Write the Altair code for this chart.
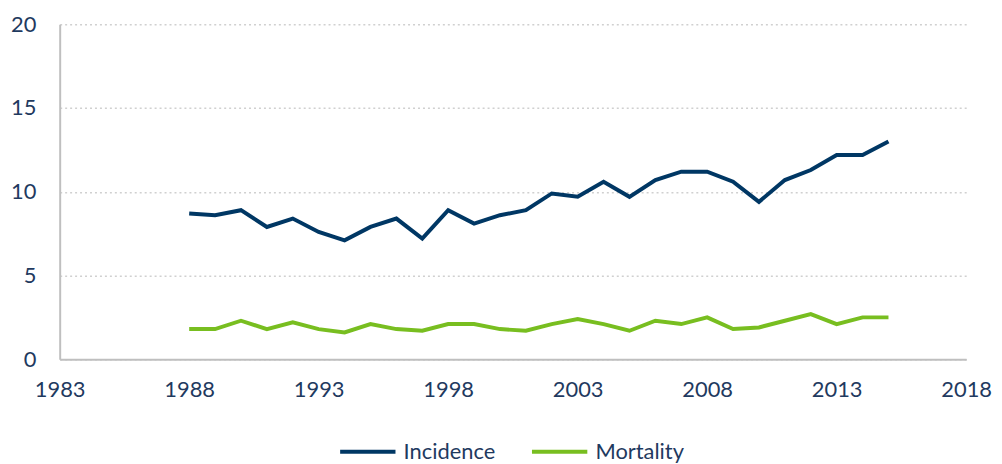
import altair as alt
import pandas as pd

years = list(range(1988, 2016))
incidence = [8.7, 8.6, 8.9, 7.9, 8.4, 7.6, 7.1, 7.9, 8.4, 7.2,
             8.9, 8.1, 8.6, 8.9, 9.9, 9.7, 10.6, 9.7, 10.7, 11.2,
             11.2, 10.6, 9.4, 10.7, 11.3, 12.2, 12.2, 13.0]
mortality = [1.8, 1.8, 2.3, 1.8, 2.2, 1.8, 1.6, 2.1, 1.8, 1.7,
             2.1, 2.1, 1.8, 1.7, 2.1, 2.4, 2.1, 1.7, 2.3, 2.1,
             2.5, 1.8, 1.9, 2.3, 2.7, 2.1, 2.5, 2.5]
series = ["Incidence", "Mortality"]
colors = ["#003764", "#78BE20"]
x_ticks = [1983, 1988, 1993, 1998, 2003, 2008, 2013, 2018]
y_ticks = [0, 5, 10, 15, 20]

rows = []
for y, a, b in zip(years, incidence, mortality):
    rows.append({"year": y, "value": a, "series": series[0]})
    rows.append({"year": y, "value": b, "series": series[1]})
df = pd.DataFrame(rows)

text_color = "#1F3A5F"
font = "Lato"

chart = alt.Chart(df).mark_line(strokeWidth=4, strokeJoin="miter").encode(
    x=alt.X("year:Q", scale=alt.Scale(domain=[1983, 2018], nice=False, zero=False),
            axis=alt.Axis(values=x_ticks, format="d", title=None, grid=False,
                          ticks=False, domain=True, domainColor="#BFBFBF", domainWidth=2,
                          labelColor=text_color, labelFont=font, labelFontSize=22,
                          labelPadding=20, labelFlush=False)),
    y=alt.Y("value:Q", scale=alt.Scale(domain=[0, 20], nice=False),
            axis=alt.Axis(values=y_ticks, title=None, grid=True, gridColor="#D0D0D0",
                          gridDash=[2, 3], gridWidth=1.5, ticks=False, domain=True,
                          domainColor="#BFBFBF", domainWidth=2,
                          labelColor=text_color, labelFont=font, labelFontSize=22,
                          labelPadding=24)),
    color=alt.Color("series:N", scale=alt.Scale(domain=series, range=colors),
                    legend=alt.Legend(title=None, orient="none", direction="horizontal",
                                      legendX=280, legendY=400,
                                      symbolType="stroke", symbolSize=3100,
                                      symbolStrokeWidth=4, labelFont=font,
                                      labelFontSize=22, labelColor=text_color,
                                      columnPadding=28, labelOffset=6)),
).properties(
    width=912, height=337,
    autosize=alt.AutoSizeParams(type="none"),
    padding={"left": 52, "top": 15, "right": 28, "bottom": 105},
).configure_view(stroke=None)

chart.save("out.html", embed_options={"renderer": "svg", "actions": False})
